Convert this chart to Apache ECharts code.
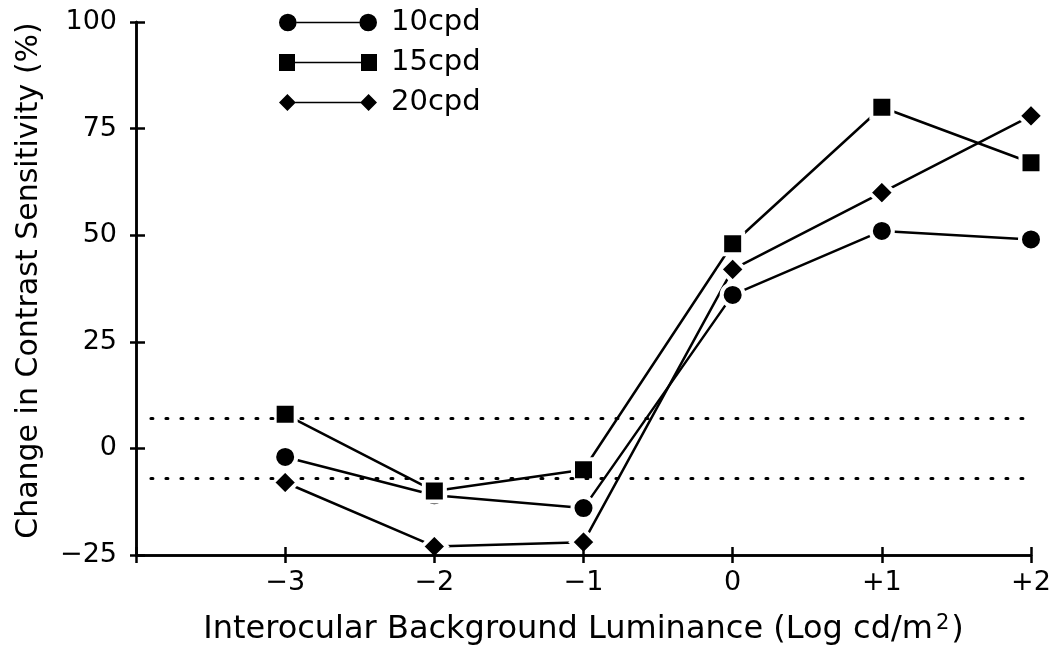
<!DOCTYPE html>
<html>
<head>
<meta charset="utf-8">
<script src="https://cdn.jsdelivr.net/npm/echarts@6/dist/echarts.min.js"></script>
<style>
  html, body { margin: 0; padding: 0; background: #fff; }
  #chart { width: 1061px; height: 658px; }
</style>
</head>
<body>
<div id="chart"></div>
<script>
// Interocular background luminance (log cd/m^2)
const luminance = [-3, -2, -1, 0, 1, 2];
// Change in contrast sensitivity (%) per spatial frequency
const cpd10 = [-2, -11, -14, 36, 51, 49];
const cpd15 = [8, -10, -5, 48, 80, 67];
const cpd20 = [-8, -23, -22, 42, 60, 78];
const seriesNames = ['10cpd', '15cpd', '20cpd'];
// Dotted reference band (±%)
const bandLimit = 7;
const bandStart = -3.9;
const bandEnd = 2;
// Axis tick labels
const yTicks = [-25, 0, 25, 50, 75, 100];
const xTickLabels = { '-3': '\u22123', '-2': '\u22122', '-1': '\u22121', '0': '0', '1': '+1', '2': '+2' };

const FONT = 'DejaVu Sans';
const INK = '#000';

const pairs = (ys) => luminance.map((x, i) => [x, ys[i]]);

const legendPaths = {
  circle: 'path://M0,9 A9,9 0 1,0 18,9 A9,9 0 1,0 0,9 Z M18,8.2 L82,8.2 L82,9.8 L18,9.8 Z M82,9 A9,9 0 1,0 100,9 A9,9 0 1,0 82,9 Z',
  square: 'path://M1,0.5 L17,0.5 L17,17.5 L1,17.5 Z M17,8.2 L83,8.2 L83,9.8 L17,9.8 Z M83,0.5 L99,0.5 L99,17.5 L83,17.5 Z',
  diamond: 'path://M9,0.5 L17.5,9 L9,17.5 L0.5,9 Z M17,8.2 L83,8.2 L83,9.8 L17,9.8 Z M91,0.5 L99.5,9 L91,17.5 L82.5,9 Z'
};

function makeSeries(name, ys, symbol, size) {
  return {
    name: name,
    type: 'line',
    data: pairs(ys),
    symbol: symbol,
    symbolSize: size,
    showSymbol: true,
    animation: false,
    clip: false,
    lineStyle: { color: INK, width: 2.5 },
    itemStyle: { color: INK, borderColor: '#fff', borderWidth: 4 },
    z: 3
  };
}

const series = [
  makeSeries(seriesNames[0], cpd10, 'circle', 22),
  makeSeries(seriesNames[1], cpd15, 'rect', 21),
  makeSeries(seriesNames[2], cpd20, 'diamond', 25)
];

// dotted band drawn as mark lines
series[0].markLine = {
  silent: true,
  symbol: 'none',
  label: { show: false },
  lineStyle: { color: INK, type: [2, 13], width: 3, cap: 'round' },
  data: [
    [{ coord: [bandStart, bandLimit] }, { coord: [bandEnd, bandLimit] }],
    [{ coord: [bandStart, -bandLimit] }, { coord: [bandEnd, -bandLimit] }]
  ]
};

// Thin companion grids hug the main axes from the plot side; their outward
// ticks form the inner half of each crossing tick. Invisible series keep
// those axes populated so they are laid out and drawn.
function ghostSeries(xi, yi) {
  return {
    type: 'line',
    xAxisIndex: xi,
    yAxisIndex: yi,
    data: pairs(cpd10),
    symbol: 'none',
    silent: true,
    animation: false,
    lineStyle: { opacity: 0, width: 0 },
    tooltip: { show: false },
    z: 0
  };
}
series.push(ghostSeries(1, 1), ghostSeries(2, 2));

const chart = echarts.init(document.getElementById('chart'), null, { renderer: 'canvas' });

const axisLine = { show: true, onZero: false, lineStyle: { color: INK, width: 2.5 } };
const tickStyle = { color: INK, width: 2.5 };
const xRange = { min: -4, max: 2, interval: 1 };
const yRange = { min: yTicks[0], max: yTicks[yTicks.length - 1], interval: 25 };

chart.setOption({
  backgroundColor: '#fff',
  animation: false,
  textStyle: { fontFamily: FONT, color: INK },
  grid: [
    { left: 136, right: 30, top: 22, bottom: 103, containLabel: false },
    { left: 136, right: 30, top: 555, bottom: 102, containLabel: false },
    { left: 135, right: 925, top: 22, bottom: 103, containLabel: false }
  ],
  legend: {
    orient: 'vertical',
    left: 279,
    top: 8,
    padding: 0,
    itemWidth: 98,
    itemHeight: 18,
    itemGap: 11,
    selectedMode: false,
    itemStyle: { color: INK, borderWidth: 0 },
    textStyle: { fontFamily: FONT, fontSize: 29, color: INK, padding: [0, 0, 0, 9] },
    data: [
      { name: seriesNames[0], icon: legendPaths.circle },
      { name: seriesNames[1], icon: legendPaths.square },
      { name: seriesNames[2], icon: legendPaths.diamond }
    ]
  },
  xAxis: [
    Object.assign({
      type: 'value',
      gridIndex: 0,
      position: 'bottom',
      axisLine: axisLine,
      axisTick: { show: true, inside: false, length: 8, lineStyle: tickStyle },
      splitLine: { show: false },
      axisLabel: {
        margin: 14,
        fontFamily: FONT, fontSize: 27, color: INK,
        formatter: v => xTickLabels[String(v)] || ''
      },
      name: '{a|Interocular Background Luminance (Log cd/m}{s|2}{a|)}',
      nameLocation: 'middle',
      nameGap: 58,
      nameTextStyle: {
        rich: {
          a: { fontFamily: FONT, fontSize: 32, color: INK },
          s: { fontFamily: FONT, fontSize: 21, color: INK, padding: [0, 2, 13, 3] }
        }
      },
      z: 5
    }, xRange),
    Object.assign({
      type: 'value',
      gridIndex: 1,
      position: 'top',
      axisLine: axisLine,
      axisTick: { show: true, inside: false, length: 8, lineStyle: tickStyle },
      splitLine: { show: false },
      axisLabel: { show: false },
      z: 5
    }, xRange),
    Object.assign({ type: 'value', gridIndex: 2, show: false }, xRange)
  ],
  yAxis: [
    Object.assign({
      type: 'value',
      gridIndex: 0,
      position: 'left',
      axisLine: axisLine,
      axisTick: { show: true, inside: false, length: 6, lineStyle: tickStyle },
      splitLine: { show: false },
      axisLabel: { margin: 19, fontFamily: FONT, fontSize: 27, color: INK,
        formatter: v => (v < 0 ? '\u2212' + Math.abs(v) : String(v)) },
      name: 'Change in Contrast Sensitivity (%)',
      nameLocation: 'middle',
      nameGap: 92,
      nameTextStyle: { fontFamily: FONT, fontSize: 30, color: INK, padding: [0, 0, 0, 16] },
      z: 5
    }, yRange),
    Object.assign({ type: 'value', gridIndex: 1, show: false }, yRange),
    Object.assign({
      type: 'value',
      gridIndex: 2,
      position: 'right',
      axisLine: axisLine,
      axisTick: { show: true, inside: false, length: 9, lineStyle: tickStyle },
      splitLine: { show: false },
      axisLabel: { show: false },
      z: 5
    }, yRange)
  ],
  series: series
});
</script>
</body>
</html>
